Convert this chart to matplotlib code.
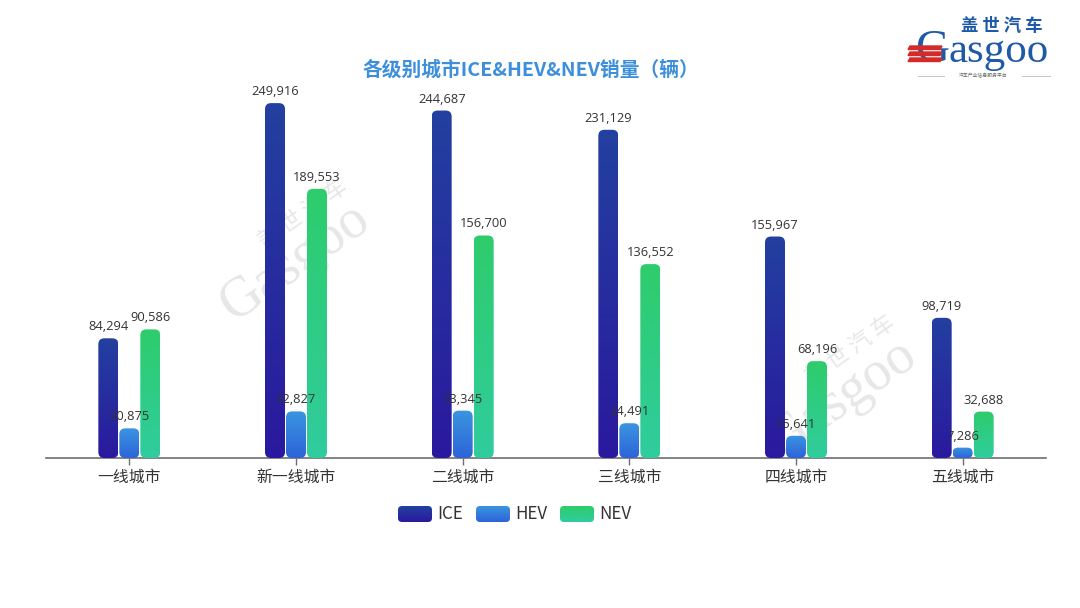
import numpy as np
import matplotlib
matplotlib.use("Agg")
import matplotlib.pyplot as plt
from matplotlib.patches import FancyBboxPatch, Polygon
from matplotlib.colors import to_rgb

plt.rcParams['font.family'] = ['Noto Sans CJK SC', 'DejaVu Sans']

categories = ['一线城市', '新一线城市', '二线城市', '三线城市', '四线城市', '五线城市']
series_names = ['ICE', 'HEV', 'NEV']
ice = [84294, 249916, 244687, 231129, 155967, 98719]
hev = [20875, 32827, 33345, 24491, 15641, 7286]
nev = [90586, 189553, 156700, 136552, 68196, 32688]
title = '各级别城市ICE&HEV&NEV销量（辆）'

series = [ice, hev, nev]
grads = [('#2340a0', '#2a199e'), ('#3a95e0', '#2d64d8'), ('#2ecc6c', '#30cc9e')]

W, H = 1080, 608
fig = plt.figure(figsize=(W / 100, H / 100), dpi=100)
fig.patch.set_facecolor('white')

# overlay in pixel coordinates (y measured upward; use Y() to convert from top)
ov = fig.add_axes([0, 0, 1, 1], zorder=0)
ov.set_xlim(0, W)
ov.set_ylim(0, H)
ov.axis('off')


def Y(y):
    return H - y


ax_left, ax_right, ax_base, ax_top = 46, 1046, 458, 32
ax = fig.add_axes([ax_left / W, (H - ax_base) / H, (ax_right - ax_left) / W, (ax_base - ax_top) / H], zorder=1)
ax.patch.set_alpha(0)
ymax = 300000
ax.set_xlim(-0.5, len(categories) - 0.5)
ax.set_ylim(0, ymax)

xu_per_px = len(categories) / (ax_right - ax_left)
yu_per_px = ymax / (ax_base - ax_top)
m_aspect = yu_per_px / xu_per_px


def grad_img(c_top, c_bot, n=64):
    t = np.linspace(0, 1, n)[:, None]
    a, b = np.array(to_rgb(c_bot)), np.array(to_rgb(c_top))
    return (a * (1 - t) + b * t)[:, None, :]


def grad_bar(axis, x0, w, y0, h, colors, r_px, aspect, xpp, ypp, z=3):
    h_px = h / ypp
    w_px = w / xpp
    r = min(r_px, h_px / 2, w_px / 2) * xpp
    p = FancyBboxPatch((x0, y0), w, h, boxstyle=f'round,pad=0,rounding_size={r}',
                       mutation_aspect=aspect, facecolor='none', edgecolor='none', zorder=z)
    axis.add_patch(p)
    im = axis.imshow(grad_img(*colors), extent=(x0, x0 + w, y0, y0 + h), origin='lower',
                     aspect='auto', interpolation='bilinear', zorder=z)
    im.set_clip_path(p)


# watermarks (behind everything)
for (wx, wy) in [(295, 262), (842, 398)]:
    ov.text(wx, Y(wy), 'Gasgoo', rotation=35, rotation_mode='anchor', fontsize=40, color='#e7e7e7',
            ha='center', va='center', family='Liberation Serif', zorder=0.5)
    ov.text(wx + 8, Y(wy - 48), '盖 世 汽 车', rotation=35, rotation_mode='anchor', fontsize=16,
            color='#e7e7e7', ha='center', va='center', zorder=0.5)

bw = 20 * xu_per_px
off = 21 * xu_per_px
for si, vals in enumerate(series):
    for ci, v in enumerate(vals):
        xc = ci + (si - 1) * off
        grad_bar(ax, xc - bw / 2, bw, 0, v, grads[si], 6, m_aspect, xu_per_px, yu_per_px)
        ax.text(xc, v + 5 * yu_per_px, f'{v:,}', ha='center', va='bottom', fontsize=9.3,
                color='#333333', family=['Open Sans', 'DejaVu Sans'], zorder=5)

for s in ['top', 'right', 'left']:
    ax.spines[s].set_visible(False)
ax.spines['bottom'].set_color('#6e6e6e')
ax.spines['bottom'].set_linewidth(1.2)
ax.set_yticks([])
ax.set_xticks(range(len(categories)))
ax.set_xticklabels(categories, fontsize=11.4, color='#333333')
ax.tick_params(axis='x', length=5, color='#6e6e6e', width=1, pad=3)

# title
ov.text(531, Y(70), title, ha='center', va='center', fontsize=14.2, fontweight='bold', color='#3d8fdc')

# legend
leg_x = [398, 476, 560]
for i, name in enumerate(series_names):
    grad_bar(ov, leg_x[i], 34, Y(522), 16, grads[i], 4, 1.0, 1.0, 1.0, z=3)
    ov.text(leg_x[i] + 39, Y(514), name, ha='left', va='center', fontsize=12.2, color='#333333')

# logo
ov.text(1002, Y(26), '盖 世 汽 车', ha='center', va='center', fontsize=12.5, fontweight='bold',
        color='#1f5aa8')
ov.text(932, Y(62), 'G', ha='center', va='baseline', fontsize=34, color='#1f5aa8',
        family='Liberation Serif')
ov.text(999, Y(62), 'asgoo', ha='center', va='baseline', fontsize=31, color='#1f5aa8',
        family='Liberation Serif')
for k, yy in enumerate([46, 52, 58]):
    ov.add_patch(Polygon([[910, Y(yy)], [942, Y(yy)], [940, Y(yy + 3.5)], [908, Y(yy + 3.5)]],
                         closed=True, color='#d42a2a', zorder=3))
ov.plot([918, 944], [Y(76), Y(76)], color='#bbbbbb', lw=0.6)
ov.plot([1022, 1050], [Y(76), Y(76)], color='#bbbbbb', lw=0.6)
ov.text(983, Y(76), '汽车产业信息服务平台', ha='center', va='center', fontsize=3.5, color='#666666')

fig.savefig('out.png', dpi=100, facecolor='white')
